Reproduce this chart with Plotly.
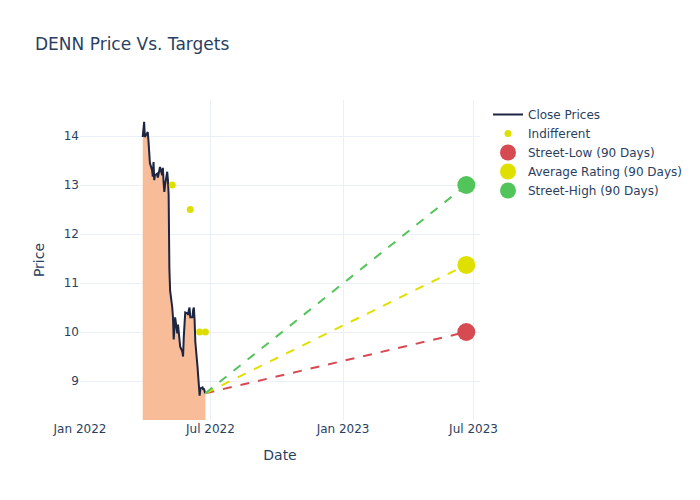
import pandas as pd
import plotly.graph_objects as go

# close prices, one per business day starting 2022-03-29
start_date = '2022-03-29'
close_prices = [13.98, 14.29, 14.29, 13.98, 14.05, 14.08, 13.9, 13.6, 13.45, 13.3,
                13.17, 13.47, 13.1, 13.2, 13.23, 13.15, 13.25, 13.3, 13.37, 13.2,
                13.35, 13.05, 12.86, 13.0, 13.27, 13.1, 12.8, 11.3, 10.85, 10.5,
                10.3, 9.85, 10.1, 10.3, 9.97, 10.15, 10.0, 9.75, 9.7, 9.6,
                9.5, 9.9, 10.25, 10.4, 10.38, 10.35, 10.45, 10.5, 10.3, 10.3,
                10.45, 10.5, 10.25, 9.8, 9.3, 9.05, 8.9, 8.7, 8.85, 8.87,
                8.82, 8.85, 8.78, 8.75]
dates = pd.bdate_range(start_date, periods=len(close_prices))

# analyst ratings (indifferent)
rating_dates = ['2022-05-09', '2022-06-03', '2022-06-16', '2022-06-24']
rating_prices = [13.0, 12.5, 10.0, 10.0]

# 90 day targets
target_date = '2023-06-21'
target_names = ['Street-Low (90 Days)', 'Average Rating (90 Days)', 'Street-High (90 Days)']
target_values = [10.0, 11.37, 13.0]
target_colors = ['#d64a52', '#e0e000', '#52c55a']

fig = go.Figure()

# shaded area under the price
fig.add_trace(go.Scatter(x=dates, y=close_prices, fill='tozeroy',
                         fillcolor='rgba(248,184,148,0.95)', mode='none',
                         showlegend=False, hoverinfo='skip'))
fig.add_trace(go.Scatter(x=dates, y=close_prices, mode='lines', name='Close Prices',
                         line=dict(color='#1c2541', width=2)))
fig.add_trace(go.Scatter(x=rating_dates, y=rating_prices, mode='markers', name='Indifferent',
                         marker=dict(color='#dede00', size=7)))

last_date = dates[-1]
last_price = close_prices[-1]
for name, val, col in zip(target_names, target_values, target_colors):
    fig.add_trace(go.Scatter(x=[last_date, target_date], y=[last_price, val],
                             mode='lines', line=dict(color=col, width=2, dash='dash'),
                             showlegend=False, hoverinfo='skip'))
for name, val, col in zip(target_names, target_values, target_colors):
    fig.add_trace(go.Scatter(x=[target_date], y=[val], mode='markers', name=name,
                             marker=dict(color=col, size=18)))

# page has an 8px body margin, so pull everything up/left by 8px
fig.update_layout(
    template='plotly_white',
    font=dict(family='DejaVu Sans'),
    width=700, height=500,
    margin=dict(l=72, r=228, t=92, b=88),
    title=dict(text='DENN Price Vs. Targets', x=0.0386, xanchor='left',
               yref='container', y=0.928, yanchor='middle'),
    xaxis=dict(title='Date', range=['2022-01-01', '2023-07-10'],
               dtick='M6', tickformat='%b %Y', zeroline=False),
    yaxis=dict(title='Price', range=[8.204, 14.735], dtick=1, zeroline=False),
)

fig.write_html('out.html')
